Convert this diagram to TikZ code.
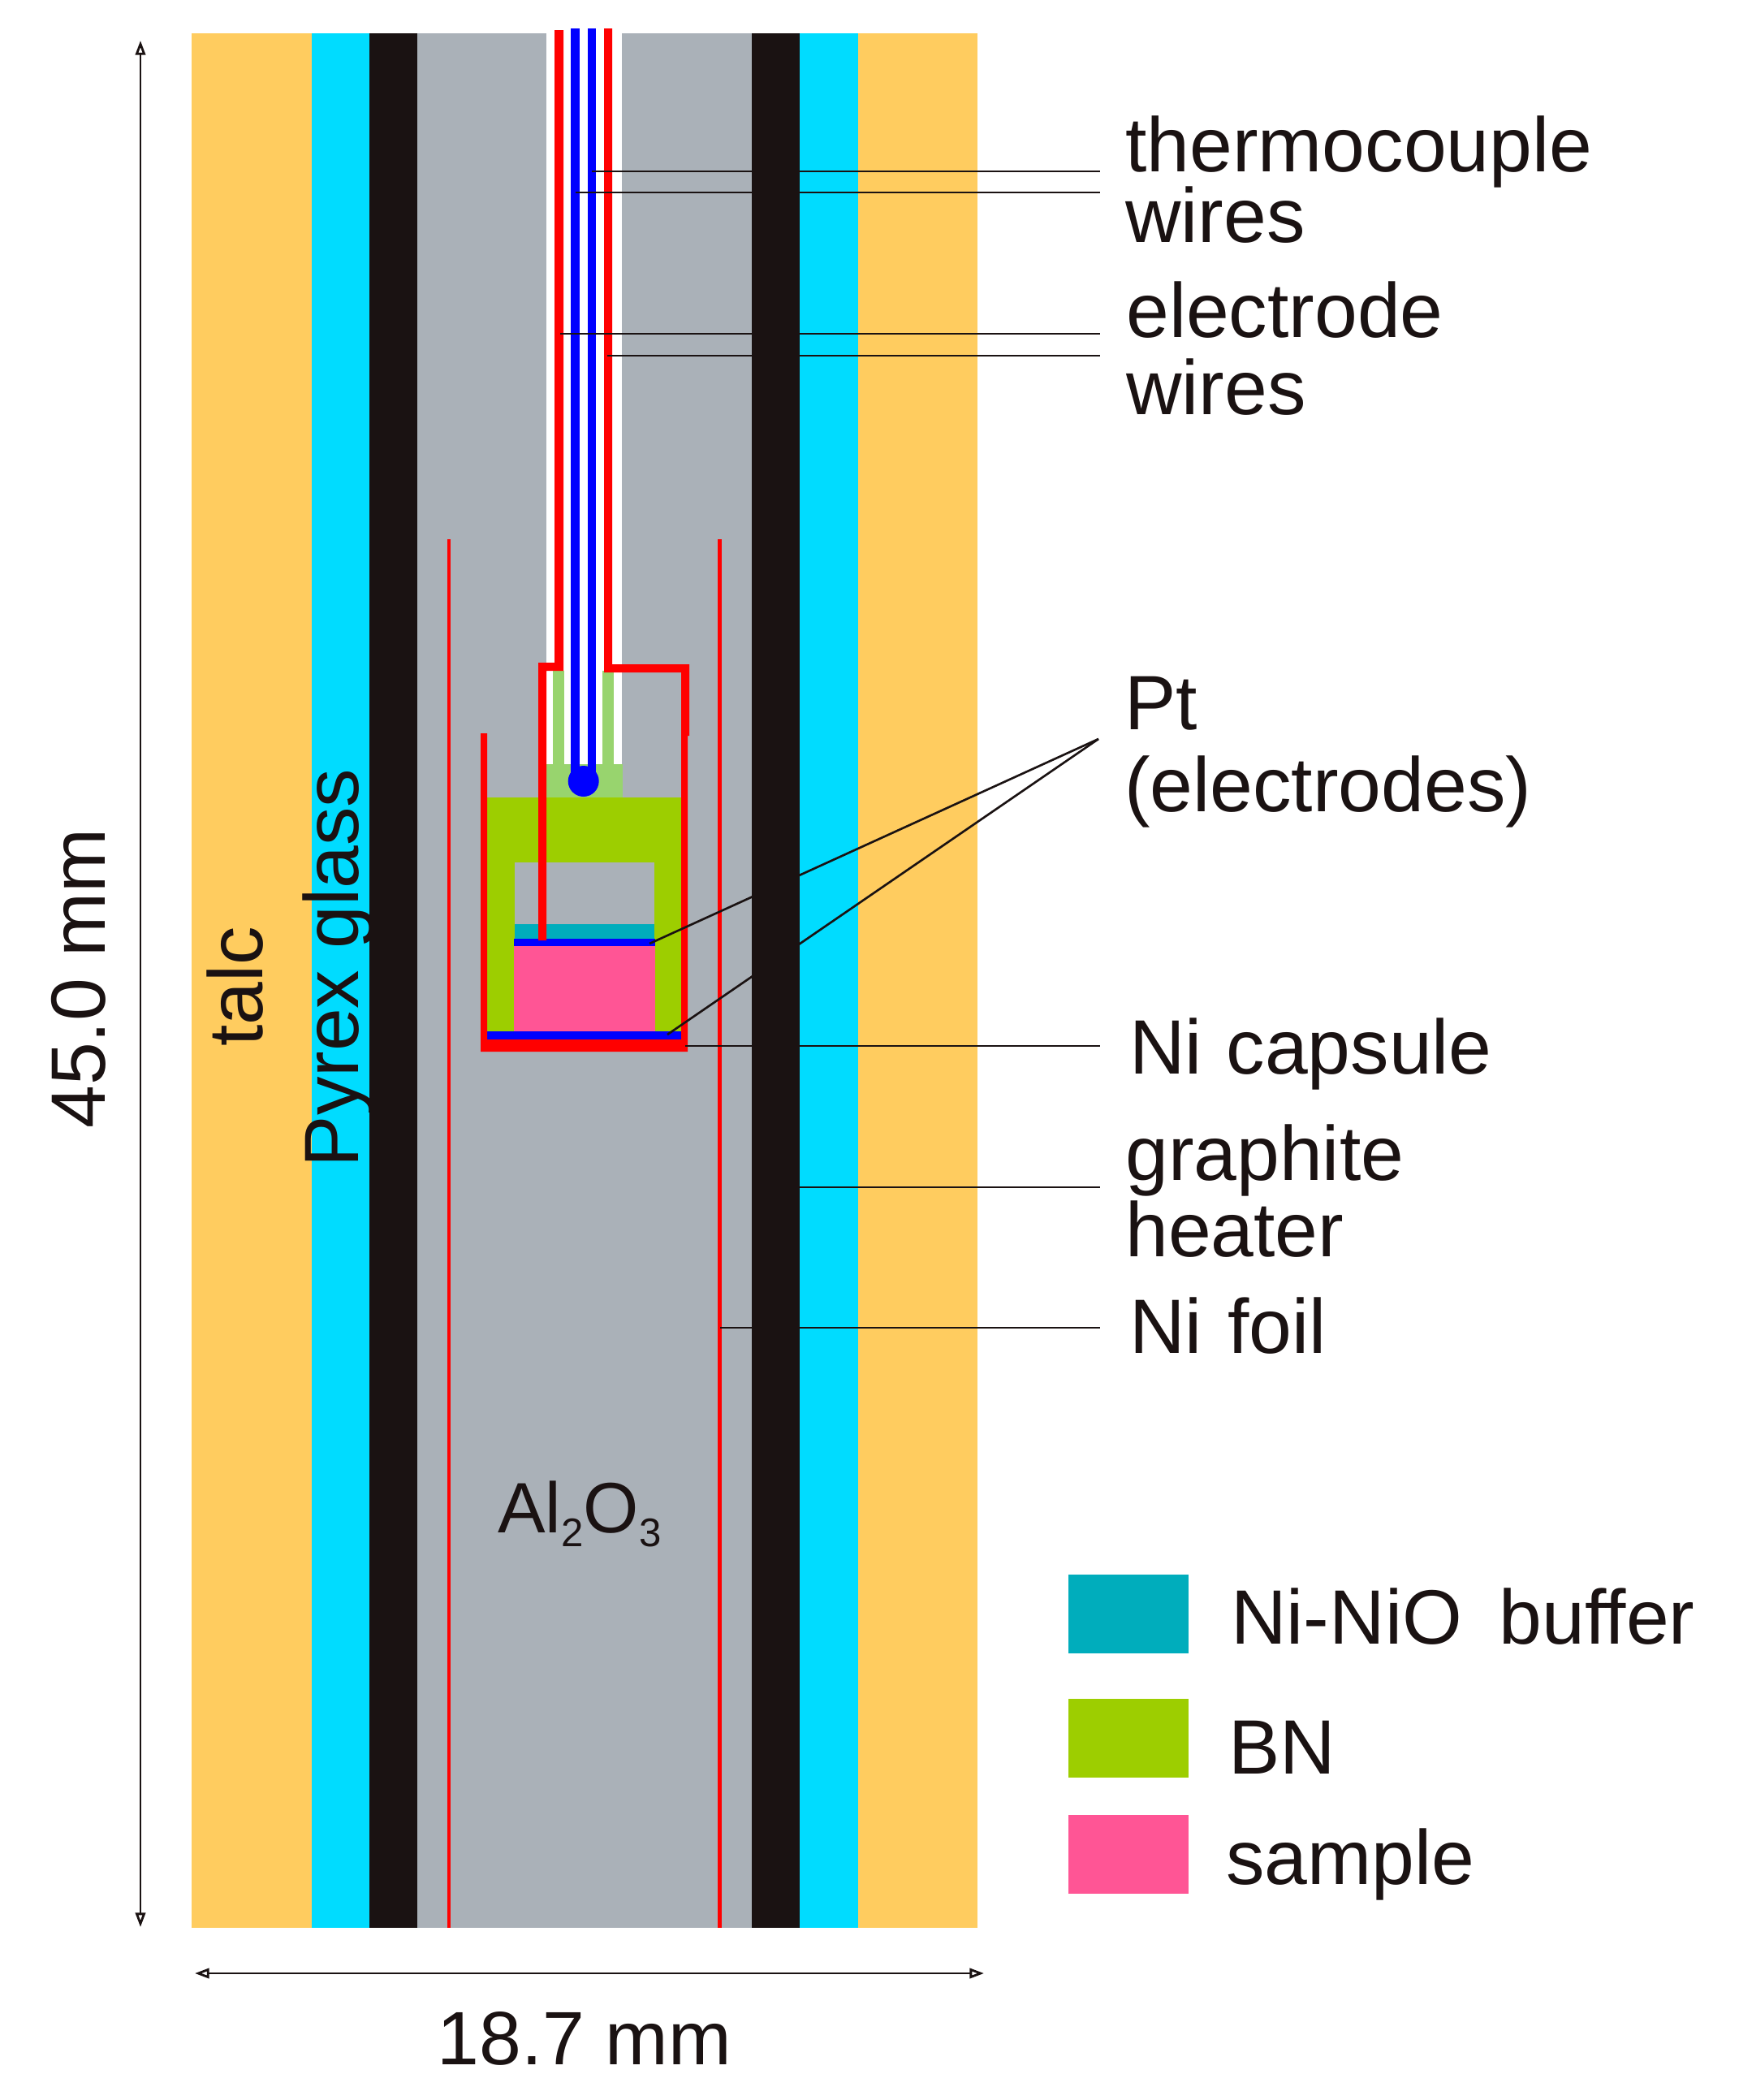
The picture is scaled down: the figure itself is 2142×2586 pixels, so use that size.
\documentclass[tikz,border=0pt]{standalone}
\usepackage{fontspec}
\setmainfont{Liberation Sans}
\usetikzlibrary{arrows.meta}

\definecolor{talc}{HTML}{FFCC5F}
\definecolor{pyrex}{HTML}{00DCFF}
\definecolor{graphite}{HTML}{1A1212}
\definecolor{alumina}{HTML}{AAB1B8}
\definecolor{bnpart}{HTML}{9DCE00}
\definecolor{bnlight}{HTML}{98D46E}
\definecolor{buffer}{HTML}{00ADBC}
\definecolor{samplepart}{HTML}{FF5595}
\definecolor{pure red}{HTML}{FF0000}
\definecolor{pure blue}{HTML}{0000FF}

\begin{document}
\begin{tikzpicture}[x=0.02cm,y=-0.02cm]
\tikzstyle{leader}=[draw=graphite,line width=1.5pt]
\tikzstyle{dim}=[draw=graphite,line width=1.6pt,{Triangle[open,length=10pt,width=7pt,fill=white]}-{Triangle[open,length=10pt,width=7pt,fill=white]}]
\tikzstyle{label}=[inner sep=0pt,text=graphite,font=\fontsize{54}{57}\selectfont,align=left]
\tikzstyle{swatch}=[rectangle,inner sep=0pt,minimum width=2.96cm,minimum height=1.94cm,anchor=north west]

\useasboundingbox (0,0) rectangle (2142,2586);

% cell layers
\fill[talc] (236,41) rectangle (1204,2374);
\fill[pyrex] (384,41) rectangle (1057,2374);
\fill[graphite] (455,41) rectangle (985,2374);
\fill[alumina] (514,41) rectangle (926,2374);

% Ni foil
\fill[pure red] (551,664) rectangle (555,2374);
\fill[pure red] (884,664) rectangle (889,2374);

% tube for the wires
\fill[white] (673,41) rectangle (766,941);
\fill[bnlight] (673,941) rectangle (767,982);
\fill[bnlight] (681,826) rectangle (695,941);
\fill[bnlight] (742,826) rectangle (756,941);

% BN and what sits in it
\fill[bnpart] (600,982) rectangle (839,1270);
\fill[alumina] (634,1062) rectangle (806,1138);
\fill[buffer] (634,1138) rectangle (806,1156);
\fill[samplepart] (633,1165) rectangle (807,1270);
\fill[pure blue] (633,1156) rectangle (807,1165);
\fill[pure blue] (599,1270) rectangle (840,1280);

% capsule
\fill[pure red] (592,903) -- (600,903) -- (600,1280) -- (839,1280) -- (839,906) -- (847,906) -- (847,1295) -- (592,1295) -- cycle;

% electrode wires
\fill[pure red] (683,37) -- (694,37) -- (694,826) -- (673,826) -- (673,1158) -- (663,1158) -- (663,816) -- (683,816) -- cycle;
\fill[pure red] (744,35) -- (754,35) -- (754,818) -- (849,818) -- (849,906) -- (839,906) -- (839,828) -- (744,828) -- cycle;

% thermocouple wires
\fill[pure blue] (703,35) rectangle (714,962);
\fill[pure blue] (724,35) rectangle (734,962);
\node (junction) [circle,fill=pure blue,inner sep=0pt,minimum size=0.76cm] at (718.7,962) {};

% labels
\node (thermo) [label,anchor=base west] at (1386,298) {thermocouple\\[-8pt]wires};
\node (electrode) [label,anchor=base west] at (1387,510) {electrode\\[-3pt]wires};
\node (pt) [label,anchor=base west] at (1385,999) {Pt\\(electrodes)};
\node (capsule) [label,anchor=base west] at (1391,1322) {Ni\hspace{2pt} capsule};
\node (graphite) [label,anchor=base west] at (1386,1547) {graphite\\[-3.5pt]heater};
\node (foil) [label,anchor=base west] at (1391,1666) {Ni\hspace{3pt} foil};
\node (al) [label,anchor=base west,font=\fontsize{50}{52}\selectfont] at (613,1887) {Al\raisebox{-10pt}{\fontsize{28}{30}\selectfont 2}O\raisebox{-10pt}{\fontsize{28}{30}\selectfont 3}};
\node (talclabel) [label,rotate=90,anchor=base] at (323,1215) {talc};
\node (pyrexlabel) [label,rotate=90,anchor=base] at (441,1192) {Pyrex glass};
\node (height) [label,rotate=90,anchor=base] at (129,1205) {45.0 mm};
\node (width) [label,anchor=base,font=\fontsize{53}{57}\selectfont] at (720,2542) {18.7 mm};

% legend
\node (buffer box) [swatch,fill=buffer] at (1316,1939) {};
\node (bn box) [swatch,fill=bnpart] at (1316,2092) {};
\node (sample box) [swatch,fill=samplepart] at (1316,2235) {};
\node (buffer text) [label,anchor=base west] at (1516,2024) {Ni-NiO\hspace{11pt} buffer};
\node (bn text) [label,anchor=base west] at (1513,2184) {BN};
\node (sample text) [label,anchor=base west] at (1510,2320) {sample};

% leader ends
\coordinate (t1) at (729,211);
\coordinate (t2) at (709,237);
\coordinate (e1) at (690,411);
\coordinate (e2) at (748,438);
\coordinate (t1r) at (1355,211);
\coordinate (t2r) at (1355,237);
\coordinate (e1r) at (1355,411);
\coordinate (e2r) at (1355,438);
\coordinate (ptr) at (1353,910);
\coordinate (p1) at (800,1162);
\coordinate (p2) at (822,1274);
\coordinate (c1) at (844,1288);
\coordinate (c1r) at (1355,1288);
\coordinate (g1) at (984,1462);
\coordinate (g1r) at (1355,1462);
\coordinate (f1) at (887,1635);
\coordinate (f1r) at (1355,1635);

\draw[leader] (t1) -- (t1r);
\draw[leader] (t2) -- (t2r);
\draw[leader] (e1) -- (e1r);
\draw[leader,line width=1.1pt] (e2) -- (e2r);
\draw[leader] (ptr) -- (p1);
\draw[leader] (ptr) -- (p2);
\draw[leader] (c1) -- (c1r);
\draw[leader] (g1) -- (g1r);
\draw[leader] (f1) -- (f1r);

% dimensions
\coordinate (dimtop) at (173,50);
\coordinate (dimbot) at (173,2373);
\coordinate (dimleft) at (240,2430);
\coordinate (dimright) at (1212,2430);
\draw[dim] (dimtop) -- (dimbot);
\draw[dim] (dimleft) -- (dimright);

\end{tikzpicture}
\end{document}
